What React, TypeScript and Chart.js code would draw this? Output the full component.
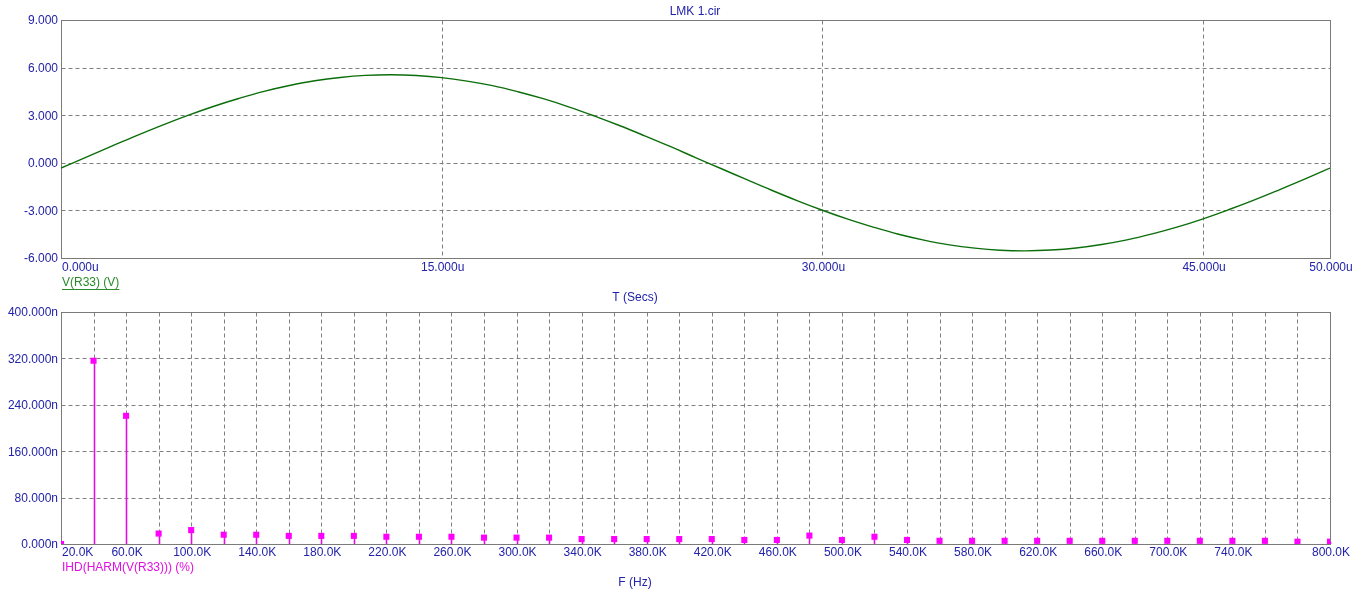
import React, { useEffect, useRef } from 'react';
import { Chart, registerables } from 'chart.js';

Chart.register(...registerables);

// ---------- data ----------
const timeUs = [0, 1, 2, 3, 4, 5, 6, 7, 8, 9, 10, 11, 12, 13, 14, 15, 16, 17, 18, 19, 20, 21, 22, 23, 24, 25, 26, 27, 28, 29, 30, 31, 32, 33, 34, 35, 36, 37, 38, 39, 40, 41, 42, 43, 44, 45, 46, 47, 48, 49, 50];
const vR33 = [-0.33, 0.36, 1.05, 1.73, 2.38, 2.99, 3.55, 4.05, 4.5, 4.87, 5.17, 5.38, 5.51, 5.55, 5.5, 5.37, 5.15, 4.86, 4.48, 4.04, 3.53, 2.96, 2.35, 1.7, 1.03, 0.33, -0.36, -1.05, -1.73, -2.38, -2.99, -3.55, -4.05, -4.5, -4.87, -5.17, -5.38, -5.51, -5.55, -5.5, -5.37, -5.15, -4.86, -4.48, -4.04, -3.53, -2.96, -2.35, -1.7, -1.03, -0.33];

const freqK = [20, 40, 60, 80, 100, 120, 140, 160, 180, 200, 220, 240, 260, 280, 300, 320, 340, 360, 380, 400, 420, 440, 460, 480, 500, 520, 540, 560, 580, 600, 620, 640, 660, 680, 700, 720, 740, 760, 780, 800];
const ihdN = [0, 316, 221, 18, 24, 16, 16, 14, 14, 14, 12.5, 12.5, 12.5, 11, 11, 11, 8.5, 8.5, 8.5, 8.5, 8.5, 7, 7, 14.5, 7, 12.5, 7, 5.5, 5.5, 5.5, 5.5, 5.5, 5.5, 5.5, 5.5, 5.5, 5.5, 5.5, 4, 4];

const voltTicks = [-6, -3, 0, 3, 6, 9];
const timeTicks = [0, 15, 30, 45, 50];
const ihdTicks = [0, 80, 160, 240, 320, 400];
const freqGrid = [20, 40, 60, 80, 100, 120, 140, 160, 180, 200, 220, 240, 260, 280, 300, 320, 340, 360, 380, 400, 420, 440, 460, 480, 500, 520, 540, 560, 580, 600, 620, 640, 660, 680, 700, 720, 740, 760, 780, 800];
const freqLabelTicks = [20, 60, 100, 140, 180, 220, 260, 300, 340, 380, 420, 460, 500, 540, 580, 620, 660, 700, 740, 800];

// ---------- style ----------
const W = 1362;
const H = 604;
const FONT = '12px "Liberation Sans", Arial, sans-serif';
const BLUE = '#2222aa';
const GRID = '#808080';
const FRAME = '#7a7a7a';
const GREEN_LINE = '#0b6e0b';
const GREEN_TEXT = '#2a8a2a';
const MAGENTA = '#ff00ff';
const MAGENTA_STEM = '#e010e0';

type PanelCfg = {
  xGrid: number[];
  yGrid: number[];
  xLabels: { v: number; t: string }[];
  yLabels: { v: number; t: string }[];
  xLabelY: number;
  texts: { x: number; y: number; t: string; color: string; align: CanvasTextAlign; underline?: boolean }[];
  stems?: boolean;
};

function makePlugin(cfg: PanelCfg) {
  return {
    id: 'simFrame',
    beforeDatasetsDraw(chart: any) {
      const ctx = chart.ctx as CanvasRenderingContext2D;
      const xs = chart.scales.x;
      const ys = chart.scales.y;
      const a = chart.chartArea;
      const L = Math.round(a.left) + 0.5;
      const R = Math.round(a.right) + 0.5;
      const T = Math.round(a.top) + 0.5;
      const B = Math.round(a.bottom) + 0.5;
      ctx.save();
      ctx.strokeStyle = GRID;
      ctx.lineWidth = 1;
      ctx.setLineDash([4, 3]);
      for (const v of cfg.yGrid) {
        const p = Math.round(ys.getPixelForValue(v)) + 0.5;
        if (Math.abs(p - T) < 1 || Math.abs(p - B) < 1) continue;
        ctx.beginPath();
        ctx.moveTo(L, p);
        ctx.lineTo(R, p);
        ctx.stroke();
      }
      for (const v of cfg.xGrid) {
        const p = Math.round(xs.getPixelForValue(v)) + 0.5;
        if (Math.abs(p - L) < 1 || Math.abs(p - R) < 1) continue;
        ctx.beginPath();
        ctx.moveTo(p, T);
        ctx.lineTo(p, B);
        ctx.stroke();
      }
      ctx.setLineDash([]);
      ctx.strokeStyle = FRAME;
      ctx.strokeRect(L, T, R - L, B - T);

      if (cfg.stems) {
        const meta = chart.getDatasetMeta(0);
        const y0 = ys.getPixelForValue(0);
        ctx.strokeStyle = MAGENTA_STEM;
        ctx.lineWidth = 1.6;
        meta.data.forEach((pt: any) => {
          if (Math.abs(pt.y - y0) < 0.5) return;
          const px = Math.round(pt.x) + 0.5;
          ctx.beginPath();
          ctx.moveTo(px, y0);
          ctx.lineTo(px, pt.y);
          ctx.stroke();
        });
      }
      ctx.restore();
    },
    afterDraw(chart: any) {
      const ctx = chart.ctx as CanvasRenderingContext2D;
      const xs = chart.scales.x;
      const ys = chart.scales.y;
      const a = chart.chartArea;
      ctx.save();
      ctx.font = FONT;
      ctx.fillStyle = BLUE;
      ctx.textBaseline = 'middle';
      ctx.textAlign = 'right';
      for (const l of cfg.yLabels) {
        ctx.fillText(l.t, a.left - 3, ys.getPixelForValue(l.v) + 1);
      }
      cfg.xLabels.forEach((l, i) => {
        const p = xs.getPixelForValue(l.v);
        ctx.textAlign = i === 0 ? 'left' : 'center';
        ctx.fillText(l.t, p + 1, cfg.xLabelY);
      });
      for (const t of cfg.texts) {
        ctx.fillStyle = t.color;
        ctx.textAlign = t.align;
        ctx.fillText(t.t, t.x, t.y);
        if (t.underline) {
          const w = ctx.measureText(t.t).width;
          ctx.strokeStyle = t.color;
          ctx.lineWidth = 1;
          ctx.beginPath();
          ctx.moveTo(t.x, Math.round(t.y + 6) + 0.5);
          ctx.lineTo(t.x + w, Math.round(t.y + 6) + 0.5);
          ctx.stroke();
        }
      }
      ctx.restore();
    },
  };
}

const hiddenScale = (min: number, max: number) => ({
  type: 'linear' as const,
  min,
  max,
  display: false,
  offset: false,
});

export default function App() {
  const topRef = useRef<HTMLCanvasElement | null>(null);
  const botRef = useRef<HTMLCanvasElement | null>(null);

  useEffect(() => {
    document.body.style.margin = '0';
    document.body.style.background = '#ffffff';

    const topCfg: PanelCfg = {
      xGrid: timeTicks,
      yGrid: voltTicks,
      xLabels: timeTicks.map((v) => ({ v, t: v.toFixed(3) + 'u' })),
      yLabels: voltTicks.map((v) => ({ v, t: v.toFixed(3) })),
      xLabelY: 268,
      texts: [
        { x: 695, y: 12, t: 'LMK 1.cir', color: BLUE, align: 'center' },
        { x: 62, y: 283, t: 'V(R33) (V)', color: GREEN_TEXT, align: 'left', underline: true },
        { x: 635, y: 298, t: 'T (Secs)', color: BLUE, align: 'center' },
      ],
    };

    const botCfg: PanelCfg = {
      xGrid: freqGrid,
      yGrid: ihdTicks,
      xLabels: freqLabelTicks.map((v) => ({ v, t: v.toFixed(1) + 'K' })),
      yLabels: ihdTicks.map((v) => ({ v, t: v.toFixed(3) + 'n' })),
      xLabelY: 553,
      texts: [
        { x: 62, y: 568, t: 'IHD(HARM(V(R33))) (%)', color: MAGENTA_STEM, align: 'left' },
        { x: 635, y: 583, t: 'F (Hz)', color: BLUE, align: 'center' },
      ],
      stems: true,
    };

    const top = new Chart(topRef.current as HTMLCanvasElement, {
      type: 'line',
      data: {
        datasets: [
          {
            data: timeUs.map((t, i) => ({ x: t, y: vR33[i] })),
            borderColor: GREEN_LINE,
            borderWidth: 1.4,
            pointRadius: 0,
            tension: 0.4,
            fill: false,
          },
        ],
      },
      options: {
        responsive: false,
        animation: false,
        events: [],
        layout: { padding: { left: 61, right: W - 1330, top: 20, bottom: H - 258 } },
        plugins: { legend: { display: false }, tooltip: { enabled: false }, title: { display: false } },
        scales: { x: hiddenScale(0, 50), y: hiddenScale(-6, 9) },
      },
      plugins: [makePlugin(topCfg)],
    } as any);

    const bot = new Chart(botRef.current as HTMLCanvasElement, {
      type: 'scatter',
      data: {
        datasets: [
          {
            data: freqK.map((f, i) => ({ x: f, y: ihdN[i] })),
            backgroundColor: MAGENTA,
            borderWidth: 0,
            pointStyle: 'rect',
            pointRadius: 4.3,
            showLine: false,
            clip: 0,
          },
        ],
      },
      options: {
        responsive: false,
        animation: false,
        events: [],
        layout: { padding: { left: 61, right: W - 1330, top: 312, bottom: H - 544 } },
        plugins: { legend: { display: false }, tooltip: { enabled: false }, title: { display: false } },
        scales: { x: hiddenScale(20, 800), y: hiddenScale(0, 400) },
      },
      plugins: [makePlugin(botCfg)],
    } as any);

    return () => {
      top.destroy();
      bot.destroy();
    };
  }, []);

  return (
    <div style={{ position: 'relative', width: W, height: H, background: '#fff' }}>
      <canvas ref={topRef} width={W} height={H} style={{ position: 'absolute', left: 0, top: 0 }} />
      <canvas ref={botRef} width={W} height={H} style={{ position: 'absolute', left: 0, top: 0 }} />
    </div>
  );
}
